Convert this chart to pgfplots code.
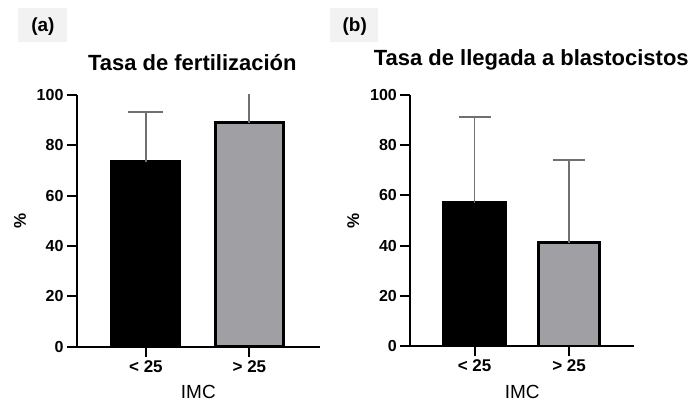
\documentclass[border=0pt]{standalone}
\usepackage{fontspec}
\setmainfont{Liberation Sans}
\usepackage{pgfplots}
\pgfplotsset{compat=1.18}
\definecolor{bargray}{HTML}{A0A0A4}
\definecolor{errgray}{HTML}{707070}
\definecolor{labbg}{HTML}{F2F2F2}
\pgfplotsset{
  mystyle/.style={
    scale only axis, height=252pt,
    ymin=0, ymax=100, ytick={0,20,...,100},
    xtick={0,1}, xticklabels={{< 25},{> 25}},
    axis x line=bottom, axis y line=left,
    axis line style={-, line width=2pt, black},
    tick style={line width=2pt, black},
    major tick length=10pt, tick align=outside,
    yticklabel style={font=\bfseries\fontsize{16}{16}\selectfont},
    xticklabel style={font=\bfseries\fontsize{17}{17}\selectfont},
    /pgf/number format/assume math mode=true,
    xlabel={IMC}, ylabel={\%},
    xlabel style={font=\fontsize{19}{19}\selectfont, yshift=-6pt},
    ylabel style={font=\bfseries\fontsize{17}{17}\selectfont, yshift=4pt},
  },
  mybar/.style={ybar, bar shift=0pt, draw=black, line width=3pt,
    error bars/.cd, y dir=plus, y explicit, error mark=|,
    error bar style={line width=1.8pt, errgray},
    error mark options={line width=1.8pt, errgray, mark size=#1},
    /pgfplots/.cd},
}
\begin{document}
\begin{tikzpicture}[x=1pt,y=1pt]
\path (0,0) rectangle (692,400);
\fill[labbg] (18,358) rectangle (67,392);
\node[font=\bfseries\fontsize{19}{19}\selectfont] at (43,373) {(a)};
\fill[labbg] (330,358) rectangle (378,392);
\node[font=\bfseries\fontsize{19}{19}\selectfont] at (355,373) {(b)};
\begin{axis}[mystyle, width=243pt, at={(77pt,53pt)}, anchor=south west,
  xmin=-0.667, xmax=1.68,
  title={Tasa de fertilización},
  title style={font=\bfseries\fontsize{22}{22}\selectfont, yshift=15pt, xshift=-6pt}]
\addplot[mybar=17.5pt, fill=black, bar width=0.657] coordinates {(0,73.5) +- (0,19.6)};
\addplot[mybar=17.5pt, fill=bargray, bar width=0.657] coordinates {(1,89) +- (0,15)};
\end{axis}
\begin{axis}[mystyle, width=224pt, at={(410.7pt,53.3pt)}, anchor=south west,
  xmin=-0.68, xmax=1.69,
  title={Tasa de llegada a blastocistos},
  title style={font=\bfseries\fontsize{22}{22}\selectfont, yshift=15pt, xshift=9pt}]
\addplot[mybar=16pt, fill=black, bar width=0.65] coordinates {(0,57) +- (0,34)};
\addplot[mybar=16pt, fill=bargray, bar width=0.65] coordinates {(1,41.1) +- (0,32.8)};
\end{axis}
\end{tikzpicture}
\end{document}
